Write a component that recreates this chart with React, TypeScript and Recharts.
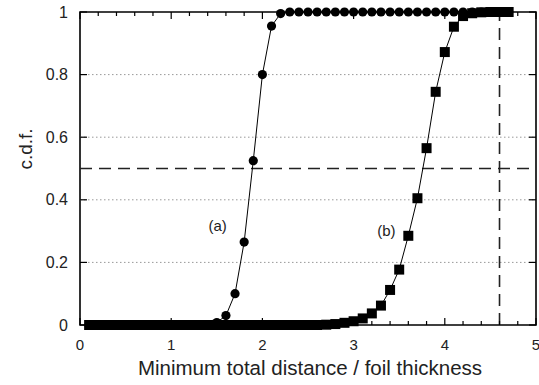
import { LineChart, Line, XAxis, YAxis, ReferenceLine, ReferenceArea, ReferenceDot } from 'recharts';

// x positions of the sampled points (distance / foil thickness)
const xs = [
  0.1, 0.2, 0.3, 0.4, 0.5, 0.6, 0.7, 0.8, 0.9, 1.0,
  1.1, 1.2, 1.3, 1.4, 1.5, 1.6, 1.7, 1.8, 1.9, 2.0,
  2.1, 2.2, 2.3, 2.4, 2.5, 2.6, 2.7, 2.8, 2.9, 3.0,
  3.1, 3.2, 3.3, 3.4, 3.5, 3.6, 3.7, 3.8, 3.9, 4.0,
  4.1, 4.2, 4.3, 4.4, 4.5, 4.6, 4.7,
];
// curve (a), circles
const cdfA = [
  0, 0, 0, 0, 0, 0, 0, 0, 0, 0,
  0, 0, 0, 0, 0.008, 0.03, 0.1, 0.265, 0.525, 0.8,
  0.955, 0.995, 1, 1, 1, 1, 1, 1, 1, 1,
  1, 1, 1, 1, 1, 1, 1, 1, 1, 1,
  1, 1, 1, 1, 1, 1, 1,
];
// curve (b), squares
const cdfB = [
  0, 0, 0, 0, 0, 0, 0, 0, 0, 0,
  0, 0, 0, 0, 0, 0, 0, 0, 0, 0,
  0, 0, 0, 0, 0, 0, 0.001, 0.003, 0.007, 0.012,
  0.021, 0.037, 0.062, 0.112, 0.177, 0.285, 0.405, 0.565, 0.745, 0.872,
  0.953, 0.987, 0.996, 0.999, 1, 1, 1,
];
const xTicks = [0, 0.2, 0.4, 0.6, 0.8, 1, 1.2, 1.4, 1.6, 1.8, 2, 2.2, 2.4, 2.6, 2.8, 3, 3.2, 3.4, 3.6, 3.8, 4, 4.2, 4.4, 4.6, 4.8, 5];
const yTicks = [0, 0.2, 0.4, 0.6, 0.8, 1];
const gridY = [0.2, 0.4, 0.6, 0.8];

const data = xs.map((x, i) => ({ x, a: cdfA[i], b: cdfB[i] }));

const W = 539;
const H = 385;
const TOP = 12;
const BOTTOM = 325;
const LEFT = 80;
const RIGHT = 536;
const FONT = '"Liberation Sans", Arial, sans-serif';
const TXT = '#222';

const XTick = ({ x, payload }: any) => {
  const v = payload.value;
  const major = Math.abs(v - Math.round(v)) < 1e-6;
  const len = major ? 7 : 4;
  return (
    <g>
      <line x1={x} x2={x} y1={BOTTOM} y2={BOTTOM - len} stroke="#000" strokeWidth={1.2} />
      <line x1={x} x2={x} y1={TOP} y2={TOP + len} stroke="#000" strokeWidth={1.2} />
      {major && (
        <text x={x} y={BOTTOM + 25} textAnchor="middle" fontSize={15} fontFamily={FONT} fill={TXT}>
          {Math.round(v)}
        </text>
      )}
    </g>
  );
};

const YTick = ({ y, payload }: any) => (
  <g>
    <line x1={LEFT} x2={LEFT + 7} y1={y} y2={y} stroke="#000" strokeWidth={1.2} />
    <line x1={RIGHT} x2={RIGHT - 7} y1={y} y2={y} stroke="#000" strokeWidth={1.2} />
    <text x={68} y={y + 5.5} textAnchor="end" fontSize={16} fontFamily={FONT} fill={TXT}>
      {String(payload.value)}
    </text>
  </g>
);

const CircleDot = (p: any) => <circle key={p.index} cx={p.cx} cy={p.cy} r={4.6} fill="#000" />;
const SquareDot = (p: any) => <rect key={p.index} x={p.cx - 5} y={p.cy - 5} width={10} height={10} fill="#000" />;

export default function App() {
  return (
    <div style={{ position: 'absolute', left: 0, top: 0, width: W, height: H, background: '#fff' }}>
      <LineChart width={W} height={H} data={data} margin={{ top: TOP, right: W - RIGHT, left: 0, bottom: 0 }}>
        <XAxis
          dataKey="x"
          type="number"
          domain={[0, 5]}
          ticks={xTicks}
          interval={0}
          height={H - BOTTOM}
          tick={XTick}
          tickLine={false}
          axisLine={false}
          label={() => (
            <text x={310} y={375} textAnchor="middle" fontSize={20.5} fontFamily={FONT} fill={TXT}>
              Minimum total distance / foil thickness
            </text>
          )}
        />
        <YAxis
          type="number"
          domain={[0, 1]}
          ticks={yTicks}
          interval={0}
          width={LEFT}
          tick={YTick}
          tickLine={false}
          axisLine={false}
          label={() => (
            <text x={32} y={149} transform="rotate(-90, 32, 149)" textAnchor="middle" fontSize={19} fontFamily={FONT} fill={TXT}>
              c.d.f.
            </text>
          )}
        />
        {gridY.map((v) => (
          <ReferenceLine key={v} y={v} stroke="#999" strokeDasharray="1.5 2.5" strokeWidth={1} />
        ))}
        <ReferenceLine y={0.5} stroke="#222" strokeDasharray="12 7" strokeWidth={1.6} />
        <ReferenceLine x={4.6} stroke="#222" strokeDasharray="12 7" strokeWidth={1.6} />
        <ReferenceDot x={1.51} y={0.316} r={0} fill="none" stroke="none"
          label={{ value: '(a)', position: 'center', fontSize: 15, fill: TXT, fontFamily: FONT }} />
        <ReferenceDot x={3.36} y={0.3} r={0} fill="none" stroke="none"
          label={{ value: '(b)', position: 'center', fontSize: 15, fill: TXT, fontFamily: FONT }} />
        <Line type="linear" dataKey="a" stroke="#000" strokeWidth={1} dot={CircleDot} activeDot={false} isAnimationActive={false} />
        <Line type="linear" dataKey="b" stroke="#000" strokeWidth={1} dot={SquareDot} activeDot={false} isAnimationActive={false} />
        <ReferenceArea x1={0} x2={5} y1={0} y2={1} fill="none" fillOpacity={0} stroke="#000" strokeWidth={1.6} />
      </LineChart>
    </div>
  );
}
